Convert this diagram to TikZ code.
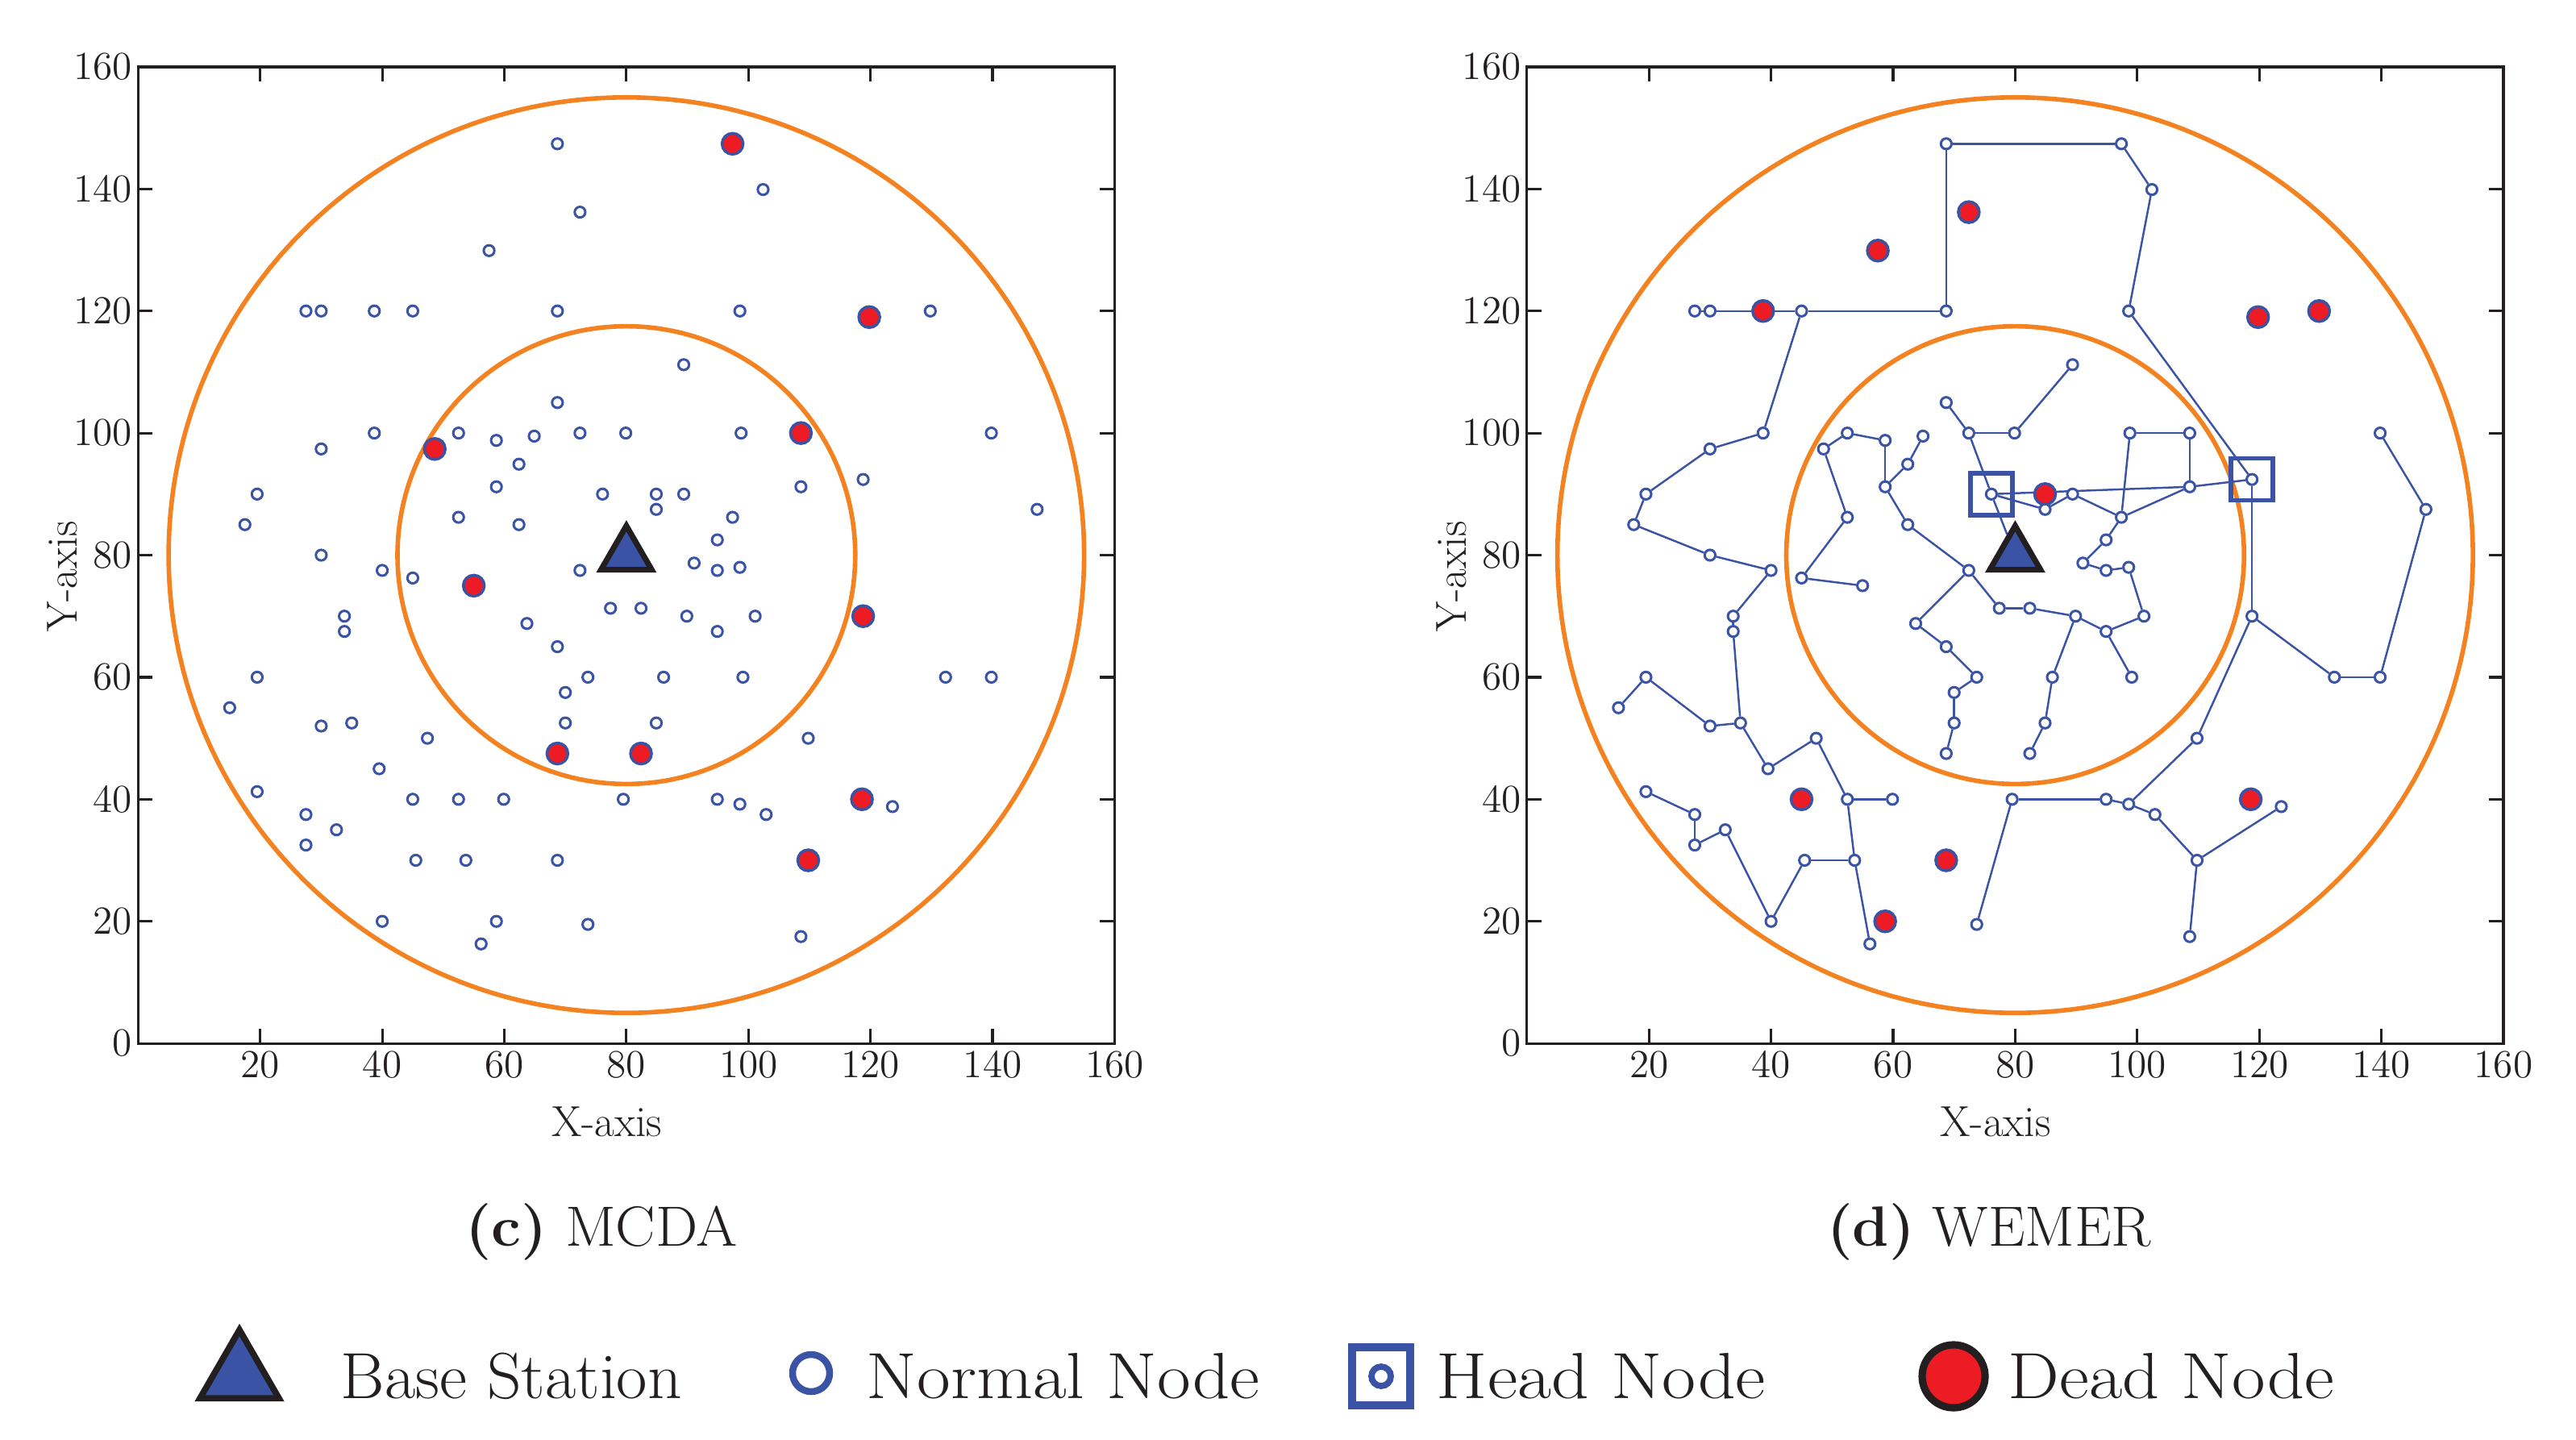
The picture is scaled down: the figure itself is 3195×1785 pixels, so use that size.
\documentclass[tikz,border=0pt]{standalone}
\usepackage{tikz}
\usepackage{graphicx}
\usetikzlibrary{shapes.geometric}
\definecolor{nblue}{HTML}{3A53A4}
\definecolor{dred}{HTML}{ED1C24}
\definecolor{ringor}{HTML}{F58220}
\definecolor{ink}{HTML}{231F20}
\pgfdeclarelayer{bg}
\pgfdeclarelayer{edges}
\pgfsetlayers{bg,edges,main}

\def\nodelist{1/68.7/147.4, 2/72.4/136.2, 3/57.5/129.9, 4/97.4/147.4, 5/102.4/139.9, 6/27.5/120, 7/30.0/120, 8/38.7/120, 9/45.0/120, 10/68.7/120, 11/98.6/120, 12/119.8/119, 13/129.8/120, 14/89.4/111.2, 15/68.7/105, 16/38.7/100, 17/30.0/97.4, 18/48.6/97.4, 19/52.5/100, 20/58.7/98.8, 21/64.9/99.5, 22/72.4/100, 23/79.9/100, 24/98.8/100, 25/108.6/100, 26/139.8/100, 27/62.4/94.9, 28/58.7/91.2, 29/76.1/90, 30/19.5/90, 31/17.5/85, 32/52.5/86.2, 33/62.4/85, 34/30/80, 35/40/77.5, 36/72.4/77.5, 37/118.8/92.4, 38/108.6/91.2, 39/147.3/87.5, 40/84.9/90, 41/89.4/90, 42/84.9/87.5, 43/97.4/86.2, 44/94.9/82.5, 45/91.1/78.7, 46/94.9/77.5, 47/98.6/78, 48/82.4/71.3, 49/89.9/70, 50/101.1/70, 51/94.9/67.5, 52/118.8/70, 53/86.1/60, 54/99.1/60, 55/132.3/60, 56/139.8/60, 57/84.9/52.5, 58/82.4/47.5, 59/109.8/50, 60/79.5/40, 61/94.9/40, 62/98.6/39.2, 63/102.9/37.5, 64/118.6/40, 65/123.6/38.8, 66/109.8/30, 67/108.6/17.5, 68/45/76.25, 69/55/75, 70/77.4/71.3, 71/33.8/70, 72/33.8/67.5, 73/63.7/68.8, 74/68.7/65, 75/19.5/60, 76/73.7/60, 77/70/57.5, 78/15/55, 79/30/52, 80/35/52.5, 81/70/52.5, 82/47.4/50, 83/68.7/47.5, 84/39.5/45, 85/19.5/41.25, 86/45/40, 87/52.5/40, 88/59.9/40, 89/27.5/37.5, 90/32.5/35, 91/27.5/32.5, 92/45.5/30, 93/53.7/30, 94/68.7/30, 95/40/20, 96/58.7/20, 97/73.7/19.5, 98/56.2/16.3}

\newcommand\plotnodes[1]{%
  \foreach \i/\px/\py in \nodelist {%
    \edef\mknode{\noexpand\node[nnode,#1\i/.try] (#1\i) at (\px,\py) {};}\mknode
  }}

\newcommand\plotframe[1]{%
  \draw[axisline] (0,0) rectangle (160,160);
  \foreach \t in {20,40,...,140} {
    \draw[axisline] (\t,0) -- (\t,2.4);
    \draw[axisline] (\t,160) -- (\t,157.6);
    \draw[axisline] (0,\t) -- (2.4,\t);
    \draw[axisline] (160,\t) -- (157.6,\t);
  }
  \foreach \t in {20,40,...,160} \node[ticklabel, anchor=base] (#1x\t) at (\t,-5.6) {\t};
  \foreach \t in {0,20,...,160} \node[ticklabel, anchor=east] (#1y\t) at (-0.9,\t) {\t};
}

\tikzset{
  L4/.style=dnode, L12/.style=dnode, L18/.style=dnode, L25/.style=dnode, L52/.style=dnode,
  L58/.style=dnode, L64/.style=dnode, L66/.style=dnode, L69/.style=dnode, L83/.style=dnode,
  R2/.style=dnode, R3/.style=dnode, R8/.style=dnode, R12/.style=dnode, R13/.style=dnode,
  R40/.style=dnode, R64/.style=dnode, R86/.style=dnode, R94/.style=dnode, R96/.style=dnode
}

\begin{document}
\begin{tikzpicture}[x=0.01cm,y=0.01cm,
  nnode/.style={circle, draw=nblue, fill=white, line width=0.85pt, minimum size=0.132cm, inner sep=0pt},
  dnode/.style={circle, draw=nblue, fill=dred, line width=1pt, minimum size=0.26cm, inner sep=0pt},
  hbox/.style={rectangle, draw=nblue, line width=1.6pt, minimum size=0.52cm, inner sep=0pt},
  link/.style={draw=nblue, line width=0.7pt},
  zone/.style={draw=ringor, line width=1.6pt},
  axisline/.style={draw=ink, line width=0.9pt},
  bsnode/.style={regular polygon, regular polygon sides=3, draw=ink, fill=nblue, line width=2pt, minimum size=0.726cm, inner sep=0pt},
  ticklabel/.style={inner sep=0pt, text=ink, font=\fontsize{14}{16}\selectfont},
  axlabel/.style={inner sep=0pt, text=ink, font=\fontsize{15.3}{18}\selectfont},
  captext/.style={inner sep=0pt, text=ink, font=\fontsize{20}{24}\selectfont},
  legtext/.style={inner sep=0pt, text=ink, anchor=west, font=\fontsize{23}{27}\selectfont}
]
\useasboundingbox (0,0) rectangle (3195,1785);

% ---------- (c) MCDA ----------
\begin{scope}[xshift=1.712cm, yshift=4.906cm, x=0.07565cm, y=0.07565cm]
  \begin{pgfonlayer}{bg}
    \draw[zone] (80,80) circle[radius=75];
    \draw[zone] (80,80) circle[radius=37.5];
  \end{pgfonlayer}
  \plotframe{L}
  \plotnodes{L}
  \node[bsnode] (LBS) at (80,80) {};
  \node[axlabel] (Lxlab) at (76.8,-12.9) {X-axis};
  \node[axlabel, rotate=90] (Lylab) at (-12.45,76.5) {Y-axis};
\end{scope}

% ---------- (d) WEMER ----------
\begin{scope}[xshift=18.927cm, yshift=4.906cm, x=0.07565cm, y=0.07565cm]
  \begin{pgfonlayer}{bg}
    \draw[zone] (80,80) circle[radius=75];
    \draw[zone] (80,80) circle[radius=37.5];
  \end{pgfonlayer}
  \plotframe{R}
  \plotnodes{R}
  \node[hbox] (R29box) at (R29) {};
  \node[hbox] (R37box) at (R37) {};
  \node[bsnode] (RBS) at (80,80) {};
  \begin{pgfonlayer}{edges}
    \foreach \a/\b in {1/4, 1/10, 10/9, 9/7, 6/7, 9/16, 16/17, 17/30, 30/31, 31/34, 34/35, 35/71, 71/72, 72/80,
      80/79, 79/75, 75/78, 80/84, 84/82, 82/87, 87/88, 87/93, 93/92, 92/95, 95/90, 90/91, 91/89, 89/85, 93/98,
      32/68, 68/69, 18/32, 18/19, 19/20, 20/28, 28/27, 27/21, 28/33, 33/36, 36/73, 73/74, 74/76, 76/77, 77/81,
      81/83, 36/70, 70/48, 15/22, 22/23, 23/14, 22/29, 29/38, 38/37, 29/42, 42/41, 41/43, 43/38, 43/24,
      24/25, 25/38, 43/44, 44/45, 45/46, 46/47, 47/50, 50/51, 51/49, 49/48, 51/54, 49/53, 53/57, 57/58,
      37/52, 52/55, 55/56, 56/39, 39/26, 37/11, 11/5, 5/4, 52/59, 59/62, 62/61, 61/60, 60/97, 62/63, 63/66,
      66/65, 66/67}
      \draw[link] (R\a) -- (R\b);
    \draw[link] (R29) -- (RBS);
  \end{pgfonlayer}
  \node[axlabel] (Rxlab) at (76.8,-12.9) {X-axis};
  \node[axlabel, rotate=90] (Rylab) at (-12.4,76.5) {Y-axis};
\end{scope}

% captions
\node[captext] (capc) at (746,257) {\scalebox{1.05}[1]{\textbf{(c)} MCDA}};
\node[captext] (capd) at (2467,257) {\scalebox{1.03}[1]{\textbf{(d)} WEMER}};

% legend
\node[bsnode, minimum size=1.13cm, line width=2.2pt] (kBS) at (297,79) {};
\node[legtext] (kBStxt) at (422,78) {\scalebox{1.03}[1]{Base Station}};
\node[circle, draw=nblue, fill=white, line width=2.4pt, minimum size=0.46cm, inner sep=0pt] (kN) at (1006,82) {};
\node[legtext] (kNtxt) at (1074,78) {\scalebox{1.12}[1]{Normal Node}};
\node[hbox, line width=2.6pt, minimum size=0.72cm] (kH) at (1713,78) {};
\node[circle, draw=nblue, fill=white, line width=2.2pt, minimum size=0.24cm, inner sep=0pt] (kHc) at (1713,78) {};
\node[legtext] (kHtxt) at (1781,78) {\scalebox{1.13}[1]{Head Node}};
\node[circle, draw=ink, fill=dred, line width=2.6pt, minimum size=0.78cm, inner sep=0pt] (kD) at (2423,78) {};
\node[legtext] (kDtxt) at (2490,78) {\scalebox{1.115}[1]{Dead Node}};
\end{tikzpicture}
\end{document}
